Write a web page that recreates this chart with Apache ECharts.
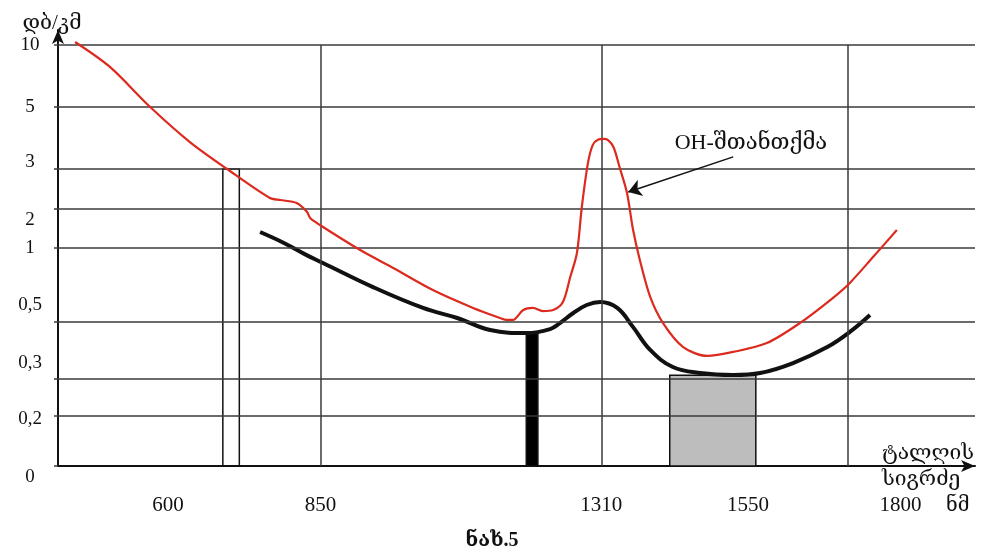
<!DOCTYPE html>
<html>
<head>
<meta charset="utf-8">
<script src="https://cdn.jsdelivr.net/npm/echarts@6/dist/echarts.min.js"></script>
<style>html,body{margin:0;padding:0;background:#fff}#c{width:984px;height:553px}</style>
</head>
<body>
<div id="c"></div>
<script>
// ---------- data ----------
const X_TICKS = [600, 850, 1310, 1550, 1800];          // nm labels
const X_GRID = [850, 1310, 1714];                       // vertical grid lines (nm)
const Y_TICKS = [0, 0.2, 0.3, 0.5, 1, 2, 3, 5, 10];     // dB/km
const Y_TICK_LABELS = ['0', '0,2', '0,3', '0,5', '1', '2', '3', '5', '10'];

const RED_NM = [448, 505, 571, 636, 697, 767, 784, 811, 828, 833, 849, 915, 969, 1034, 1100, 1144, 1155, 1165, 1182, 1198, 1214, 1231, 1247, 1259, 1270, 1278, 1288, 1296, 1305, 1313, 1321, 1330, 1340, 1352, 1362, 1373, 1390, 1411, 1444, 1483, 1526, 1581, 1635, 1689, 1717, 1755, 1794];
const RED_DB = [10.24, 8.23, 5.0, 3.87, 3.0, 2.275, 2.225, 2.15, 1.923, 1.769, 1.59, 0.986, 0.865, 0.716, 0.595, 0.527, 0.514, 0.514, 0.581, 0.595, 0.574, 0.581, 0.635, 0.804, 0.966, 2.05, 3.19, 3.78, 3.95, 3.97, 3.93, 3.7, 3.05, 2.4, 1.46, 0.919, 0.669, 0.496, 0.412, 0.381, 0.395, 0.426, 0.496, 0.662, 0.764, 0.939, 1.46];

const BLACK_NM = [751, 790, 828, 854, 936, 1018, 1074, 1128, 1188, 1226, 1242, 1264, 1286, 1308, 1336, 1362, 1390, 1427, 1472, 1526, 1570, 1624, 1680, 1717, 1750];
const BLACK_DB = [1.41, 1.13, 0.95, 0.899, 0.736, 0.595, 0.527, 0.472, 0.461, 0.475, 0.496, 0.561, 0.615, 0.635, 0.595, 0.482, 0.402, 0.342, 0.321, 0.314, 0.321, 0.356, 0.412, 0.465, 0.547];

// transmission windows
const WIN_START = [690, 1187, 1422];
const WIN_END = [717, 1206, 1563];
const WIN_TOP = [3, 0.465, 0.3135];

const OH_LABEL = 'OH-შთანთქმა';

// ---------- layout / scale ----------
const Y_LEVELS = [0, 50, 87, 144, 218, 257, 297, 359, 421]; // custom (non-linear) axis scale
const Y_MAX_LEVEL = 436;
function toLevel(v) {
  for (let i = 0; i < Y_TICKS.length - 1; i++) {
    if (v <= Y_TICKS[i + 1]) {
      const t = (v - Y_TICKS[i]) / (Y_TICKS[i + 1] - Y_TICKS[i]);
      return Y_LEVELS[i] + t * (Y_LEVELS[i + 1] - Y_LEVELS[i]);
    }
  }
  const n = Y_TICKS.length - 1;
  const slope = (Y_LEVELS[n] - Y_LEVELS[n - 1]) / (Y_TICKS[n] - Y_TICKS[n - 1]);
  return Y_LEVELS[n] + (v - Y_TICKS[n]) * slope;
}
const LABEL_SHIFT = { '0': [22, 0], '0,3': [0, 32], '0,5': [0, 34], '2': [22, 0], '3': [0, 14], '0,2': [6, 0] };

const FONT = "'Liberation Serif','DejaVu Serif',serif";
const GRID_COLOR = '#3a3a3a';

const redData = RED_NM.map((x, i) => [x, toLevel(RED_DB[i])]);
const blackData = BLACK_NM.map((x, i) => [x, toLevel(BLACK_DB[i])]);
const winData = WIN_START.map((s, i) => [s, WIN_END[i], toLevel(WIN_TOP[i]), i]);
const WIN_FILL = ['none', '#000000', '#bdbdbd'];

const rich = {};
Object.keys(LABEL_SHIFT).forEach((k, i) => {
  rich['s' + i] = { padding: [LABEL_SHIFT[k][0], 0, LABEL_SHIFT[k][1], 0], fontSize: 19, fontFamily: FONT, color: '#111' };
});

const chart = echarts.init(document.getElementById('c'), null, { renderer: 'canvas' });
chart.setOption({
  animation: false,
  backgroundColor: '#fff',
  title: {
    text: 'ნახ.5', left: 'center', top: 526,
    textStyle: { fontFamily: FONT, fontSize: 20, fontWeight: 'bold', color: '#111' }
  },
  grid: { left: 58, right: 9, top: 30, bottom: 87 },
  xAxis: {
    type: 'value', min: 420, max: 1922,
    name: 'ტალღის\nსიგრძე', nameLocation: 'end', nameGap: -93,
    nameTextStyle: { fontFamily: FONT, fontSize: 21, color: '#111', align: 'left', verticalAlign: 'middle', lineHeight: 26 },
    axisLine: { show: true, symbol: ['none', 'arrow'], symbolSize: [9, 14], lineStyle: { color: '#111', width: 2 } },
    axisTick: { show: false },
    splitLine: { show: false },
    axisLabel: { customValues: X_TICKS, margin: 29, fontFamily: FONT, fontSize: 21, color: '#111', formatter: v => String(v) }
  },
  yAxis: {
    type: 'value', min: 0, max: Y_MAX_LEVEL,
    name: 'დბ/კმ', nameLocation: 'end', nameGap: -4,
    nameTextStyle: { fontFamily: FONT, fontSize: 21, color: '#111', align: 'center', padding: [0, 12, 0, 0] },
    axisLine: { show: true, symbol: ['none', 'arrow'], symbolSize: [9, 14], lineStyle: { color: '#111', width: 2 } },
    axisTick: { show: true, customValues: Y_LEVELS, length: 4, lineStyle: { color: GRID_COLOR, width: 1.5 } },
    splitLine: { show: false },
    axisLabel: {
      customValues: Y_LEVELS, margin: 28, align: 'center', fontFamily: FONT, fontSize: 19, color: '#111',
      formatter: function (v) {
        const i = Y_LEVELS.indexOf(v);
        const lab = i >= 0 ? Y_TICK_LABELS[i] : '';
        const k = Object.keys(LABEL_SHIFT).indexOf(lab);
        return k >= 0 ? '{s' + k + '|' + lab + '}' : lab;
      },
      rich: rich
    }
  },
  graphic: [
    { type: 'text', left: 946, top: 496, style: { text: 'ნმ', font: "20px " + FONT, fill: '#111' } }
  ],
  series: [
    {
      type: 'custom', name: 'windows', z: 1,
      renderItem: function (params, api) {
        const p1 = api.coord([api.value(0), api.value(2)]);
        const p2 = api.coord([api.value(1), 0]);
        const idx = api.value(3);
        return {
          type: 'rect',
          shape: { x: p1[0], y: p1[1], width: p2[0] - p1[0], height: p2[1] - p1[1] },
          style: { fill: WIN_FILL[idx], stroke: '#111', lineWidth: 1.5 }
        };
      },
      encode: { x: [0, 1], y: 2 },
      data: winData
    },
    {
      type: 'line', name: 'grid', z: 2, data: [], silent: true,
      markLine: {
        silent: true, symbol: 'none', animation: false,
        label: { show: false },
        lineStyle: { color: GRID_COLOR, width: 1.5, type: 'solid' },
        data: Y_TICKS.slice(1).map(v => ({ yAxis: toLevel(v) }))
          .concat(X_GRID.map(x => [{ coord: [x, 0] }, { coord: [x, toLevel(10)] }]))
      }
    },
    {
      type: 'line', name: 'black', z: 4, data: blackData, smooth: 0.4, showSymbol: false, symbol: 'none',
      lineStyle: { color: '#111', width: 4 }
    },
    {
      type: 'line', name: 'red', z: 5, data: redData, smooth: 0.3, showSymbol: false, symbol: 'none',
      lineStyle: { color: '#dc2a1e', width: 2.2 },
      markLine: {
        silent: true, symbol: ['none', 'arrow'], symbolSize: 13, animation: false,
        label: { show: false },
        lineStyle: { color: '#111', width: 1.5, type: 'solid' },
        data: [[{ coord: [1526, toLevel(3.39)] }, { coord: [1354, toLevel(2.425)] }]]
      },
      markPoint: {
        symbol: 'circle', symbolSize: 0, silent: true, animation: false,
        label: { show: true, position: 'inside', formatter: OH_LABEL, fontFamily: FONT, fontSize: 22, color: '#111' },
        data: [{ coord: [1555, toLevel(3.84)] }]
      }
    }
  ]
});
</script>
</body>
</html>
